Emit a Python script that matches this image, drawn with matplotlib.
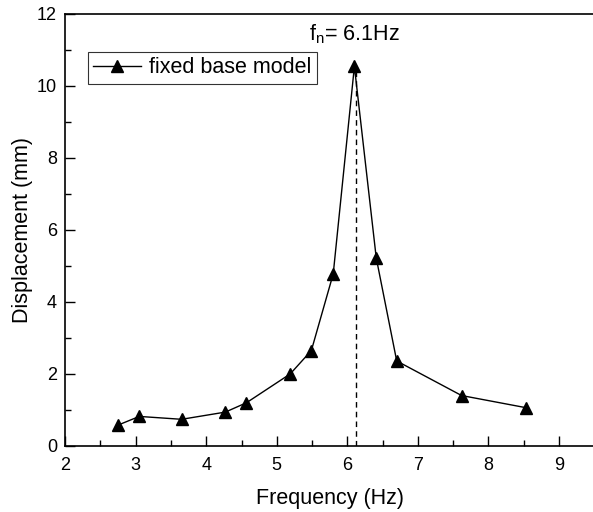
import matplotlib
matplotlib.use("Agg")
import matplotlib.pyplot as plt
from matplotlib.ticker import MultipleLocator

plt.rcParams['font.family'] = ['Liberation Sans', 'DejaVu Sans']
plt.rcParams['mathtext.default'] = 'regular'

# Data
freq = [2.75, 3.05, 3.65, 4.27, 4.57, 5.19, 5.49, 5.80, 6.10, 6.41, 6.70, 7.62, 8.54]
disp = [0.58, 0.82, 0.74, 0.94, 1.20, 2.00, 2.65, 4.78, 10.54, 5.22, 2.36, 1.40, 1.06]
fn = 6.12
fn_disp = 10.54

fig = plt.figure(figsize=(5.93, 5.12), dpi=100)
ax = fig.add_axes([0.110, 0.129, 0.892, 0.844])

ax.plot(freq, disp, color='black', lw=1, marker='^', ms=9, label='fixed base model')
ax.plot([fn, fn], [0, fn_disp], color='black', lw=1, ls=(0, (4, 3)))
ax.text(6.1, 11.1, r'f$_{n}$= 6.1Hz', fontsize=15.5, ha='center', va='bottom')

ax.set_xlim(2, 9.5)
ax.set_ylim(0, 12)
ax.xaxis.set_major_locator(MultipleLocator(1))
ax.xaxis.set_minor_locator(MultipleLocator(0.5))
ax.yaxis.set_major_locator(MultipleLocator(2))
ax.yaxis.set_minor_locator(MultipleLocator(1))
ax.tick_params(which='both', direction='in', labelsize=13, width=1)
ax.tick_params(which='major', length=7)
ax.tick_params(which='minor', length=4)
ax.tick_params(axis='x', pad=8)
ax.tick_params(axis='y', pad=6)
for s in ax.spines.values():
    s.set_linewidth(1.2)
ax.spines['right'].set_visible(False)

ax.set_xlabel('Frequency (Hz)', fontsize=15.5, labelpad=10)
ax.set_ylabel('Displacement (mm)', fontsize=15.5, labelpad=3)

leg = ax.legend(loc='upper left', bbox_to_anchor=(0.043, 0.912), fontsize=15.5,
                frameon=True, fancybox=False, edgecolor='black', borderpad=0.25,
                handlelength=2.2, handletextpad=0.4, borderaxespad=0)
leg.get_frame().set_linewidth(0.8)

fig.savefig('out.png', dpi=100)
